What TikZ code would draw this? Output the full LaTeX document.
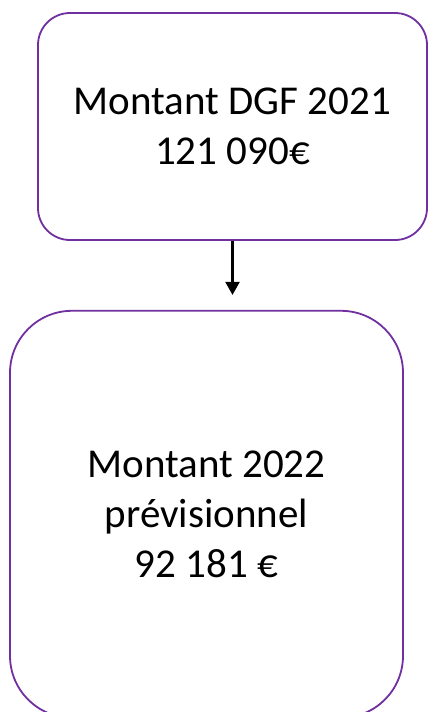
\documentclass[tikz,border=0pt]{standalone}
\usepackage{fontspec}
\setmainfont{Carlito}
\usetikzlibrary{positioning,arrows.meta}

\definecolor{boxpurple}{HTML}{7030A0}

\begin{document}
\begin{tikzpicture}[%
        x=1pt,y=1pt,
        node distance=69pt,
        montant/.style={%
          rectangle,
          draw=boxpurple,
          line width=1.8pt,
          align=center,
          font=\fontsize{41}{50}\selectfont
        }
      ]
      \useasboundingbox (0,0) rectangle (428,-712);
      \node[montant,rounded corners=32pt,minimum width=389pt,minimum height=227pt]
        (dgf) at (232.5,-126.5) {Montant DGF 2021\\121 090€};
      \node[montant,rounded corners=62pt,minimum width=393pt,minimum height=407pt,
        xshift=-26pt] (prev) [below=of dgf] {Montant 2022\\prévisionnel\\92 181 €};
      \draw[-{Triangle[width=14pt,length=13pt]},line width=2.2pt,shorten >=15pt]
        (dgf.south) -- (dgf.south |- prev.north);
  \end{tikzpicture}
\end{document}
